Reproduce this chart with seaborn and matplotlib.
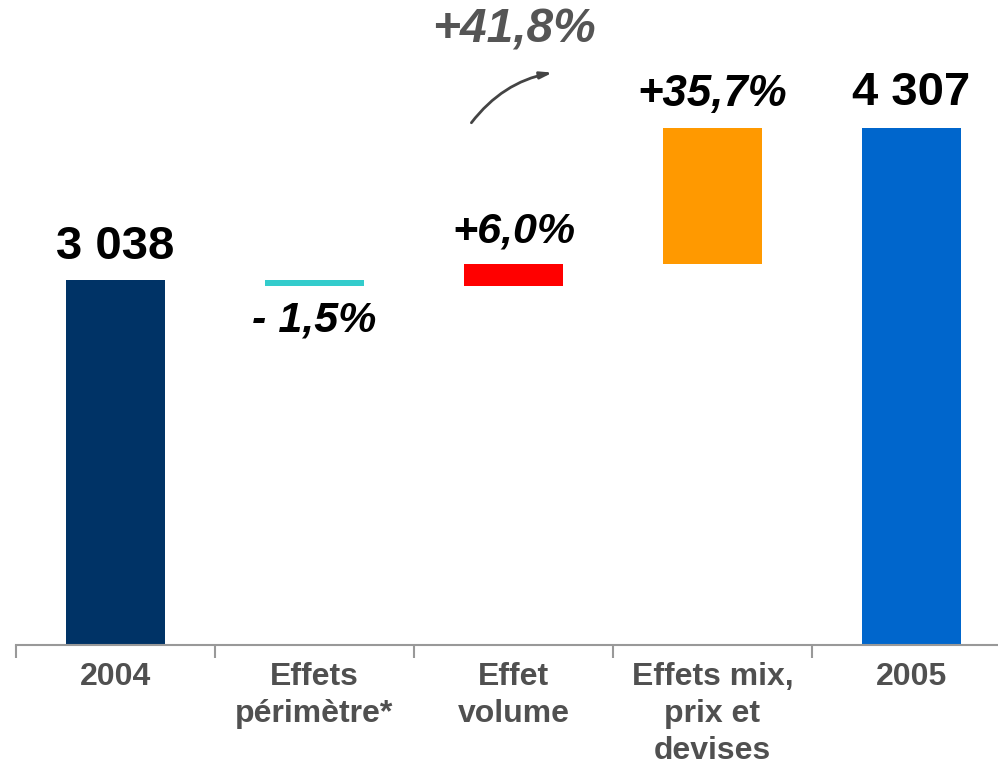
import numpy as np
import pandas as pd
import matplotlib
matplotlib.use("Agg")
import matplotlib.pyplot as plt
import seaborn as sns

# waterfall data
categories = ["2004", "Effets\npérimètre*", "Effet\nvolume", "Effets mix,\nprix et\ndevises", "2005"]
start_value = 3038
end_value = 4307
deltas = [-46, 182, 1133]   # perimeter, volume, mix/price/fx
labels = ["3 038", "- 1,5%", "+6,0%", "+35,7%", "4 307"]
total_label = "+41,8%"
colors = ["#003366", "#33CCCC", "#FF0000", "#FF9900", "#0066CC"]

# build bottoms / heights for the floating bars
levels = np.cumsum([start_value] + deltas)
bottoms = [0] + [min(a, b) for a, b in zip(levels[:-1], levels[1:])] + [0]
heights = [start_value] + [abs(d) for d in deltas] + [end_value]
df = pd.DataFrame({"cat": categories, "height": heights, "bottom": bottoms})

sns.set_style("white")
plt.rcParams["font.family"] = ["Liberation Sans", "DejaVu Sans"]

fig = plt.figure(figsize=(9.98, 7.68), dpi=100)
ax = fig.add_axes([16 / 998, 123 / 768, 982 / 998, 645 / 768])

sns.barplot(data=df, x="cat", y="height", bottom=df["bottom"].values, width=0.5,
            color="gray", ax=ax)
for patch, c in zip(ax.patches, colors):
    patch.set_facecolor(c)
    patch.set_edgecolor("none")

ax.set_xlabel("")
ax.set_ylabel("")
ax.set_yticks([])
for s in ["top", "right", "left"]:
    ax.spines[s].set_visible(False)
ax.spines["bottom"].set_color("#999999")
ax.spines["bottom"].set_linewidth(1.5)

# category separators as minor ticks
ax.set_xticks(np.arange(-0.5, 5, 1), minor=True)
ax.tick_params(axis="x", which="major", bottom=False, length=0, pad=12)
ax.tick_params(axis="x", which="minor", bottom=True, length=9, width=1.5,
               color="#999999", direction="out")
for t in ax.get_xticklabels():
    t.set_fontsize(23)
    t.set_fontweight("bold")
    t.set_color("#505050")
    t.set_linespacing(1.32)
    t.set_multialignment("center")

ax.set_xlim(-0.5, -0.5 + 982 / 199)
ax.set_ylim(0, 645 / 0.1201)

tops = [b + h for b, h in zip(bottoms, heights)]
off = 105
# value labels
ax.text(0, tops[0] + off - 15, labels[0], ha="center", va="bottom", fontsize=34,
        fontweight="bold", color="black")
ax.text(4, tops[4] + off, labels[4], ha="center", va="bottom", fontsize=34,
        fontweight="bold", color="black")
ax.text(1, bottoms[1] - 120, labels[1], ha="center", va="top", fontsize=31,
        fontweight="bold", style="italic", color="black")
ax.text(2, tops[2] + off, labels[2], ha="center", va="bottom", fontsize=31,
        fontweight="bold", style="italic", color="black")
ax.text(3, tops[3] + off, labels[3], ha="center", va="bottom", fontsize=31.5,
        fontweight="bold", style="italic", color="black")
ax.text(2, 645 / 0.1201 - 440, total_label, ha="center", va="bottom", fontsize=34.5,
        fontweight="bold", style="italic", color="#555555")

# decorative arrow
ax.annotate("", xy=(2.21, 4770), xytext=(1.78, 4330),
            arrowprops=dict(arrowstyle="-|>,head_length=0.7,head_width=0.2",
                            connectionstyle="arc3,rad=-0.2", color="#444444", lw=2))

fig.savefig("out.png", dpi=100)
